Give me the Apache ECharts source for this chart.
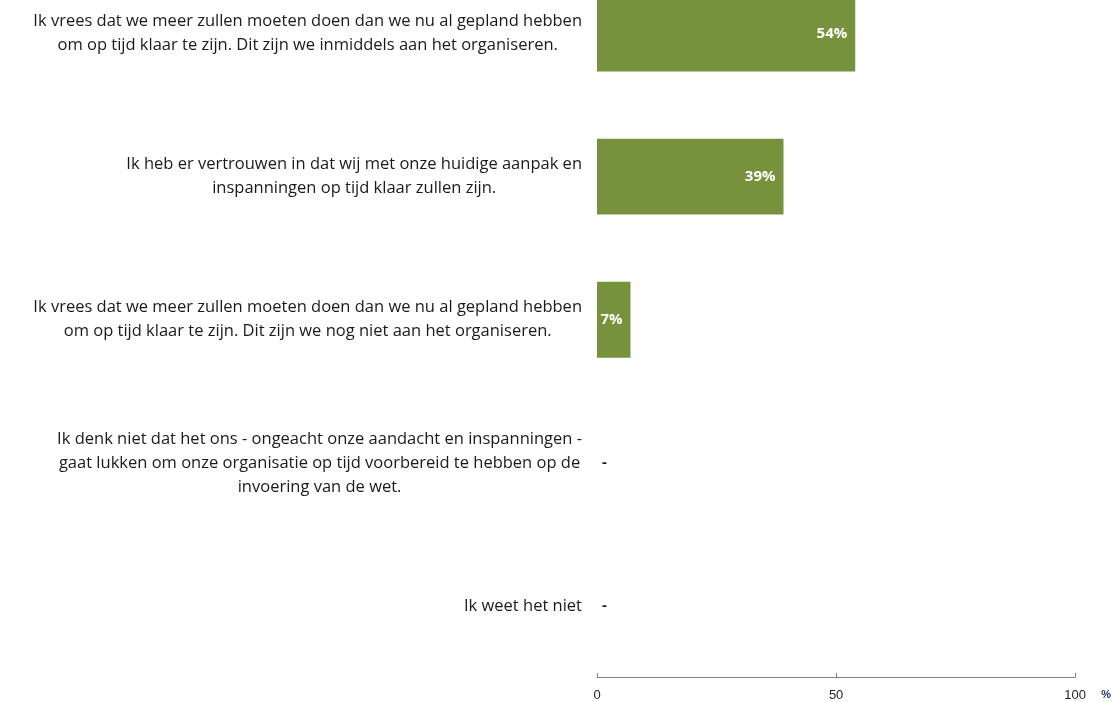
<!DOCTYPE html>
<html>
<head>
<meta charset="utf-8">
<script src="https://cdn.jsdelivr.net/npm/echarts@6/dist/echarts.min.js"></script>
<style>
  html, body { margin: 0; padding: 0; background: #fff; overflow: hidden; }
  /* bovenste balk valt deels buiten beeld, daarom hoger vlak en omhoog geschoven */
  #main { width: 1114px; height: 740px; position: relative; top: -38px; }
</style>
</head>
<body>
<div id="main"></div>
<script>
// antwoorden (van boven naar onder)
const categories = [
  'Ik vrees dat we meer zullen moeten doen dan we nu al gepland hebben\nom op tijd klaar te zijn. Dit zijn we inmiddels aan het organiseren.',
  'Ik heb er vertrouwen in dat wij met onze huidige aanpak en\ninspanningen op tijd klaar zullen zijn.',
  'Ik vrees dat we meer zullen moeten doen dan we nu al gepland hebben\nom op tijd klaar te zijn. Dit zijn we nog niet aan het organiseren.',
  'Ik denk niet dat het ons - ongeacht onze aandacht en inspanningen -\ngaat lukken om onze organisatie op tijd voorbereid te hebben op de\ninvoering van de wet.',
  'Ik weet het niet'
]
const values = [54, 39, 7, 0, 0]
const xTicks = [0, 50, 100]

const FONT = 'Open Sans'
const GREEN = '#77923c'

let myChart = echarts.init(document.getElementById('main'))

let option = {
  animation: false,
  grid: {
    left: 597,
    right: 38,
    top: 0,
    bottom: 16.5,
    containLabel: false
  },
  xAxis: {
    type: 'value',
    min: xTicks[0],
    max: xTicks[xTicks.length - 1],
    interval: 50,
    offset: -0.5,
    name: '%',
    nameLocation: 'end',
    nameGap: 26,
    nameTextStyle: {
      color: '#1f3864',
      fontFamily: 'Liberation Sans',
      fontWeight: 'bold',
      fontSize: 11,
      verticalAlign: 'top',
      padding: [12, 0, 0, 0]
    },
    axisLine: { show: true, lineStyle: { color: '#808080', width: 1 } },
    axisTick: { show: true, inside: true, length: 4, lineStyle: { color: '#808080' } },
    axisLabel: {
      color: '#262626',
      fontFamily: 'Liberation Sans',
      fontSize: 13,
      margin: 12
    },
    splitLine: { show: false }
  },
  yAxis: {
    type: 'category',
    inverse: true,
    data: categories,
    axisLine: { show: false },
    axisTick: { show: false },
    axisLabel: {
      margin: 15,
      formatter: function (value) {
        return value.split('\n').map(function (l) {
          return '{c|' + l + '}'
        }).join('\n')
      },
      rich: {
        c: {
          align: 'center',
          color: '#1a1a1a',
          fontFamily: FONT,
          fontSize: 16.5,
          lineHeight: 24
        }
      }
    }
  },
  series: [{
    type: 'bar',
    barWidth: '53%',
    itemStyle: { color: GREEN },
    label: {
      show: true,
      position: 'insideRight',
      distance: 8,
      color: '#fff',
      fontFamily: FONT,
      fontWeight: 'bold',
      fontSize: 15,
      formatter: '{c}%'
    },
    data: values.map(function (v) {
      if (v === 0) {
        // lege waarde -> streepje naast de as
        return {
          value: v,
          label: { position: 'right', distance: 5, color: '#1a1a1a', fontWeight: 'bold', formatter: '-' }
        }
      }
      return v
    })
  }]
}

myChart.setOption(option)
</script>
</body>
</html>
